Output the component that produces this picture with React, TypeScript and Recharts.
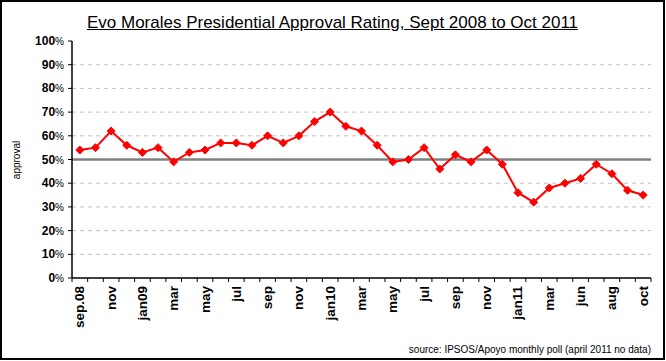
import React from 'react';
import { LineChart, Line, XAxis, YAxis, ReferenceLine } from 'recharts';

const months = [
    'sep.08', 'oct', 'nov', 'dec',
    'jan09', 'feb', 'mar', 'apr', 'may', 'jun', 'jul', 'aug', 'sep', 'oct', 'nov', 'dec',
    'jan10', 'feb', 'mar', 'apr', 'may', 'jun', 'jul', 'aug', 'sep', 'oct', 'nov', 'dec',
    'jan11', 'feb', 'mar', 'may', 'jun', 'jul', 'aug', 'sep', 'oct',
];

const approval = [
    54, 55, 62, 56,
    53, 55, 49, 53, 54, 57, 57, 56, 60, 57, 60, 66,
    70, 64, 62, 56, 49, 50, 55, 46, 52, 49, 54, 48,
    36, 32, 38, 40, 42, 48, 44, 37, 35,
];

const yTicks = [0, 10, 20, 30, 40, 50, 60, 70, 80, 90, 100];
const gridLines = [10, 20, 30, 40, 60, 70, 80, 90];

const data = months.map((m, i) => ({ idx: i, month: m, approval: approval[i] }));

const W = 666;
const H = 361;
const LEFT = 8;
const Y_W = 64;
const RIGHT = 15;
const STEP = (W - LEFT - Y_W - RIGHT) / data.length;
const FONT = "Arial, 'Liberation Sans', sans-serif";

const XTick = (props: any) => {
    const { x, y, payload } = props;
    const i = payload.index;
    return (
        <g>
            <line x1={x - STEP / 2} y1={y} x2={x - STEP / 2} y2={y + 4} stroke='#000' />
            {i === data.length - 1 && (
                <line x1={x + STEP / 2} y1={y} x2={x + STEP / 2} y2={y + 4} stroke='#000' />
            )}
            {i % 2 === 0 && (
                <text
                    x={x}
                    y={y + 8}
                    transform={`rotate(-90, ${x}, ${y + 8})`}
                    textAnchor='end'
                    dominantBaseline='central'
                    fontSize={13.5}
                    fontWeight='bold'
                    fontFamily={FONT}
                    fill='#000'
                >
                    {months[i]}
                </text>
            )}
        </g>
    );
};

const YTick = (props: any) => {
    const { x, y, payload } = props;
    return (
        <text x={x} y={y} textAnchor='end' dominantBaseline='central' fontFamily={FONT} fill='#000'>
            <tspan fontSize={12} fontWeight='bold'>{payload.value}</tspan>
            <tspan fontSize={10}>%</tspan>
        </text>
    );
};

const Diamond = (props: any) => {
    const { cx, cy, index } = props;
    const r = 4;
    return (
        <polygon
            key={`d-${index}`}
            points={`${cx},${cy - r} ${cx + r},${cy} ${cx},${cy + r} ${cx - r},${cy}`}
            fill='#ff0000'
            stroke='#ff0000'
        />
    );
};

export default function App() {
    return (
        <div
            style={{
                position: 'absolute',
                left: 0,
                top: 0,
                width: W - 1,
                height: H - 1,
                border: '2px solid #000',
                boxSizing: 'border-box',
                background: '#fff',
                fontFamily: FONT,
            }}
        >
            <div
                style={{
                    position: 'absolute',
                    left: 0,
                    width: '100%',
                    top: 11,
                    textAlign: 'center',
                    fontSize: 17,
                    textDecoration: 'underline',
                }}
            >
                Evo Morales Presidential Approval Rating, Sept 2008 to Oct 2011
            </div>
            <div
                style={{
                    position: 'absolute',
                    left: 14,
                    top: 158,
                    fontSize: 10,
                    transform: 'translate(-50%, -50%) rotate(-90deg)',
                    whiteSpace: 'nowrap',
                }}
            >
                approval
            </div>
            <div
                style={{
                    position: 'absolute',
                    right: 12,
                    top: 342,
                    fontSize: 10,
                    whiteSpace: 'nowrap',
                }}
            >
                source: IPSOS/Apoyo monthly poll (april 2011 no data)
            </div>
            <div style={{ position: 'absolute', left: -2, top: -2 }}>
                <LineChart width={W} height={H} data={data} margin={{ top: 41, right: RIGHT, bottom: 0, left: LEFT }}>
                    {gridLines.map((v) => (
                        <ReferenceLine key={v} y={v} stroke='#c0c0c0' strokeDasharray='4 4' />
                    ))}
                    <ReferenceLine y={50} stroke='#808080' strokeWidth={2.5} />
                    <XAxis
                        dataKey='idx'
                        type='category'
                        interval={0}
                        height={83}
                        padding={{ left: STEP / 2, right: STEP / 2 }}
                        tick={<XTick />}
                        tickLine={false}
                        tickSize={0}
                        tickMargin={0}
                        axisLine={{ stroke: '#000', strokeWidth: 1.5 }}
                    />
                    <YAxis
                        domain={[0, 100]}
                        ticks={yTicks}
                        interval={0}
                        width={Y_W}
                        tick={<YTick />}
                        tickSize={4}
                        tickMargin={4}
                        tickLine={{ stroke: '#000' }}
                        axisLine={{ stroke: '#000', strokeWidth: 1.5 }}
                    />
                    <Line
                        type='linear'
                        dataKey='approval'
                        stroke='#ff0000'
                        strokeWidth={2}
                        dot={<Diamond />}
                        activeDot={false}
                        isAnimationActive={false}
                    />
                </LineChart>
            </div>
        </div>
    );
}
